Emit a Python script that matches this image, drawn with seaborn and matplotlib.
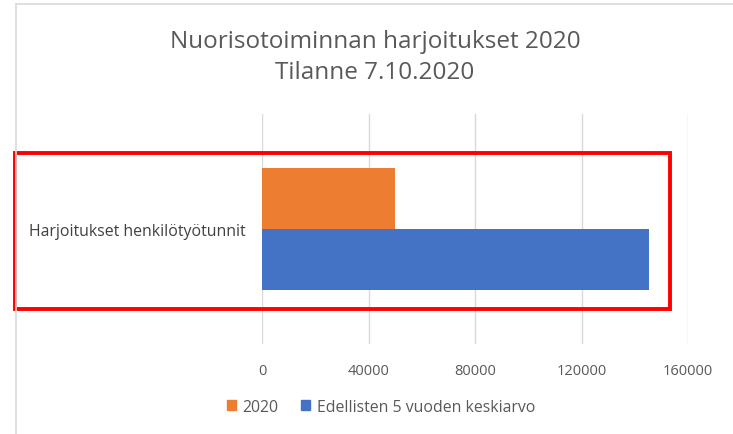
import pandas as pd
import seaborn as sns
import matplotlib.pyplot as plt
from matplotlib.patches import Rectangle
from matplotlib.lines import Line2D

# data
category = ["Harjoitukset henkilötyötunnit"]
series = ["2020", "Edellisten 5 vuoden keskiarvo"]
values_2020 = [49800]
values_avg = [145300]
xticks = [0, 40000, 80000, 120000, 160000]

df = pd.DataFrame({
    "kategoria": category * 2,
    "sarja": [series[0]] * len(values_2020) + [series[1]] * len(values_avg),
    "arvo": values_2020 + values_avg,
})

sns.set_style("white")
plt.rcParams["font.family"] = ["Open Sans", "DejaVu Sans"]
grey = "#595959"

fig = plt.figure(figsize=(7.33, 4.35), dpi=100)
ax = fig.add_axes([262 / 733, 1 - 345 / 435, (688 - 262) / 733, (345 - 115) / 435])

sns.barplot(data=df, y="kategoria", x="arvo", hue="sarja", orient="h",
            palette=["#ed7d31", "#4472c4"], saturation=1, width=0.53, linewidth=0,
            ax=ax, legend=False)

ax.set_xlim(0, 160000)
ax.set_xticks(xticks)
ax.set_xticklabels([str(t) for t in xticks], color=grey, fontsize=10.5)
ax.tick_params(axis="x", length=0, pad=14)
ax.tick_params(axis="y", length=0, pad=12, labelsize=11.4, labelcolor="#404040")
ax.set_xlabel("")
ax.set_ylabel("")
ax.grid(axis="x", color="#d9d9d9", lw=1)
ax.set_axisbelow(True)
for s in ax.spines.values():
    s.set_visible(False)

# title
fig.text(375 / 733, 1 - 42 / 435, "Nuorisotoiminnan harjoitukset 2020", ha="center", va="center",
         fontsize=17.5, color=grey)
fig.text(375 / 733, 1 - 73 / 435, "Tilanne 7.10.2020", ha="center", va="center",
         fontsize=17.5, color=grey)

# legend
handles = [Rectangle((0, 0), 1, 1, color="#ed7d31"), Rectangle((0, 0), 1, 1, color="#4472c4")]
leg = fig.legend(handles, series, loc="center", bbox_to_anchor=(381 / 733, 1 - 408 / 435),
                 ncol=2, frameon=False, fontsize=11.4, handlelength=0.6, handleheight=0.6,
                 handletextpad=0.4, columnspacing=1.4)
for t in leg.get_texts():
    t.set_color(grey)

# chart frame and red highlight box
fig.add_artist(Line2D([15.5 / 733, 15.5 / 733], [0, 1 - 4.5 / 435], color="#d9d9d9", lw=1.2))
fig.add_artist(Line2D([15.5 / 733, 1], [1 - 4.5 / 435, 1 - 4.5 / 435], color="#d9d9d9", lw=1.2))
fig.add_artist(Rectangle((15 / 733, 1 - 310 / 435), (670 - 15) / 733, (310 - 154) / 435,
                         fill=False, edgecolor="#ff0000", lw=2.8))

plt.savefig("out.png", dpi=100)
